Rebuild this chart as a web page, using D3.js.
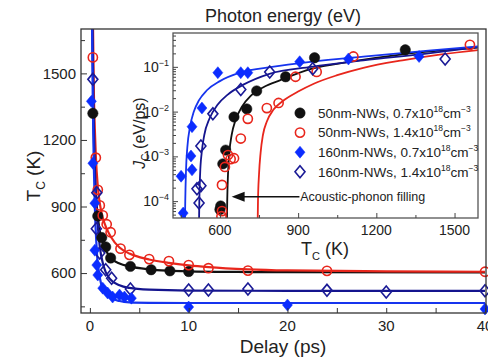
<!DOCTYPE html>
<html>
<head>
<meta charset="utf-8">
<script src="https://cdn.jsdelivr.net/npm/d3@7"></script>
<style>
  body { margin: 0; background: #fff; }
  svg { display: block; font-family: "Liberation Sans", Arial, sans-serif; }
</style>
</head>
<body>
<div id="chart"></div>
<script>
// ---- main plot: Tc vs delay ----
var redDelay   = [0.3, 0.6, 0.8, 1.0, 1.3, 1.7, 2.1, 3.1, 4.0, 6, 8, 10, 12, 16, 24, 40];
var redTc      = [1572, 1120, 975, 905, 860, 820, 784, 710, 682, 663, 654, 636, 622, 611, 610, 606];
var blackDelay = [0.3, 0.8, 1.2, 1.6, 2.1, 4.1, 6.2, 8.1, 10.0];
var blackTc    = [1320, 857, 760, 718, 668, 630, 615, 610, 607];
var blueDelay  = [0.15, 0.3, 0.5, 0.5, 0.7, 0.8, 1.3, 1.8, 2.3, 3.0, 3.5, 4.2, 10, 20, 40];
var blueTc     = [1374, 1095, 915, 703, 636, 591, 532, 510, 492, 501, 492, 487, 447, 456, 438];
var navyDelay  = [0.3, 0.7, 0.65, 1.0, 1.6, 2.2, 4.1, 10, 12, 16, 24, 30, 40];
var navyTc     = [1473, 962, 800, 690, 615, 577, 528, 524, 524, 528, 522, 515, 520];

// fit curves
var redFitT   = [0.32, 0.4, 0.5, 0.6, 0.8, 1.0, 1.3, 1.7, 2.1, 3, 4, 5, 6, 8, 10, 12, 16, 20, 30, 40];
var redFitTc  = [1700, 1420, 1250, 1130, 990, 915, 850, 800, 765, 715, 688, 672, 661, 646, 635, 627, 617, 612, 608, 606];
var blackFitT  = [0.27, 0.35, 0.5, 0.7, 1.0, 1.3, 1.7, 2.2, 3, 4, 6, 8, 10, 15, 20, 40];
var blackFitTc = [1700, 1350, 1050, 900, 790, 735, 695, 665, 643, 630, 617, 611, 608, 605, 604, 603];
var navyFitT  = [0.27, 0.35, 0.5, 0.7, 1.0, 1.4, 2, 3, 4, 6, 10, 20, 40];
var navyFitTc = [1700, 1400, 1080, 880, 720, 630, 575, 545, 533, 525, 521, 520, 520];
var blueFitT  = [0.22, 0.3, 0.4, 0.5, 0.7, 1.0, 1.4, 2, 3, 4, 6, 10, 40];
var blueFitTc = [1700, 1350, 1080, 900, 700, 580, 520, 490, 474, 468, 466, 465, 465];

var mainXTicks = [0, 10, 20, 30, 40];
var mainYTicks = [600, 900, 1200, 1500];

// ---- inset: Jc vs Tc ----
var inBlackT = [600, 603, 611, 622, 654, 703, 741, 852, 963, 1311];
var inBlackJ = [6.5e-5, 7.8e-5, 6.8e-4, 1.38e-3, 7.6e-3, 1.15e-2, 2.9e-2, 6.0e-2, 0.16, 0.24];
var inRedT = [606, 608, 608, 619, 631, 641, 654, 680, 707, 780, 825, 890, 971, 1112, 1559];
var inRedJ = [4.6e-5, 6.0e-5, 2.3e-4, 5.8e-4, 1.07e-3, 8.7e-4, 9.1e-4, 2.5e-3, 6.9e-3, 1.2e-2, 1.56e-2, 6.0e-2, 7.7e-2, 0.17, 0.31];
var inBlueT = [459, 451, 493, 489, 493, 531, 592, 680, 707, 906, 1093, 1364];
var inBlueJ = [5.4e-5, 3.6e-4, 5e-4, 1.02e-3, 4.6e-3, 1.2e-2, 7.4e-2, 7.4e-2, 7.4e-2, 0.13, 0.15, 0.17];
var inNavyT = [520, 512, 527, 527, 573, 680, 791, 956, 1464];
var inNavyJ = [9.1e-5, 1.9e-4, 2.2e-4, 1.7e-3, 8.9e-3, 3.1e-2, 7.7e-2, 9.1e-2, 0.15];

var inBlueFitT = [466, 467, 470, 475, 485, 500, 520, 550, 600, 680, 800, 950, 1150, 1400, 1600];
var inBlueFitJ = [4e-5, 1e-4, 5e-4, 1.6e-3, 4.5e-3, 1e-2, 1.8e-2, 3e-2, 4.8e-2, 7.5e-2, 0.1, 0.13, 0.17, 0.23, 0.29];
var inNavyFitT = [520, 521, 524, 530, 540, 560, 590, 630, 690, 790, 950, 1150, 1400, 1600];
var inNavyFitJ = [4e-5, 1e-4, 4e-4, 1.2e-3, 3e-3, 7e-3, 1.4e-2, 2.4e-2, 4e-2, 7e-2, 0.1, 0.14, 0.2, 0.28];
var inBlackFitT = [627, 628, 631, 636, 645, 660, 685, 720, 770, 830, 950, 1100, 1300, 1600];
var inBlackFitJ = [4e-5, 1e-4, 4e-4, 1.2e-3, 3e-3, 6.5e-3, 1.3e-2, 2.3e-2, 3.6e-2, 5e-2, 9e-2, 0.13, 0.19, 0.27];
var inRedFitT = [745, 746, 750, 756, 765, 780, 805, 840, 900, 960, 1050, 1150, 1300, 1450, 1600];
var inRedFitJ = [4e-5, 1e-4, 4e-4, 1.2e-3, 3e-3, 6e-3, 1.1e-2, 1.7e-2, 2.8e-2, 4.2e-2, 6.5e-2, 9.5e-2, 0.14, 0.19, 0.24];

var inXTicks = [600, 900, 1200, 1500];
var inYExp = [-4, -3, -2, -1];

var legendNames = ["50nm-NWs, 0.7x10", "50nm-NWs, 1.4x10", "160nm-NWs, 0.7x10", "160nm-NWs, 1.4x10"];

var RED = "#e8261c", BLACK = "#111", BLUE = "#0b2cff", NAVY = "#1a1a96";
var BLUELINE = "#1634ee", NAVYLINE = "#14148e";

var W = 488, H = 360;
var svg = d3.select("#chart").append("svg").attr("width", W).attr("height", H);

// main scales
var x = d3.scaleLinear().domain([-0.9, 40.1]).range([81, 486]);
var y = d3.scaleLinear().domain([420, 1700]).range([313, 29]);

svg.append("defs").append("clipPath").attr("id", "mainclip")
  .append("rect").attr("x", 81).attr("y", 29).attr("width", 405).attr("height", 284);

var diamond = "M0,-6L5,0L0,6L-5,0Z";

function zip(a, b) { return a.map(function (d, i) { return [d, b[i]]; }); }

var mainLine = d3.line().curve(d3.curveMonotoneX)
  .x(function (d) { return x(d[0]); })
  .y(function (d) { return y(d[1]); });

var gm = svg.append("g");
var fits = [
  [blackFitT, blackFitTc, BLACK],
  [redFitT, redFitTc, RED],
  [navyFitT, navyFitTc, NAVYLINE],
  [blueFitT, blueFitTc, BLUELINE]
];
fits.forEach(function (f) {
  gm.append("path").attr("clip-path", "url(#mainclip)")
    .attr("d", mainLine(zip(f[0], f[1])))
    .attr("fill", "none").attr("stroke", f[2]).attr("stroke-width", 2.2);
});

function drawMarks(g, xs, ys, sx, sy, kind, color) {
  var pts = zip(xs, ys);
  if (kind === "circle" || kind === "ocircle") {
    g.selectAll(null).data(pts).enter().append("circle")
      .attr("cx", function (d) { return sx(d[0]); })
      .attr("cy", function (d) { return sy(d[1]); })
      .attr("r", kind === "circle" ? 5.2 : 4.6)
      .attr("fill", kind === "circle" ? color : "none")
      .attr("stroke", color).attr("stroke-width", kind === "circle" ? 0.5 : 1.6);
  } else {
    g.selectAll(null).data(pts).enter().append("path")
      .attr("d", diamond)
      .attr("transform", function (d) { return "translate(" + sx(d[0]) + "," + sy(d[1]) + ")"; })
      .attr("fill", kind === "diamond" ? color : "none")
      .attr("stroke", color).attr("stroke-width", kind === "diamond" ? 0.5 : 1.6);
  }
}

drawMarks(gm, blackDelay, blackTc, x, y, "circle", BLACK);
drawMarks(gm, redDelay, redTc, x, y, "ocircle", RED);
drawMarks(gm, navyDelay, navyTc, x, y, "odiamond", NAVY);
drawMarks(gm, blueDelay, blueTc, x, y, "diamond", BLUE);

// main frame and ticks (inward)
svg.append("rect").attr("x", 81).attr("y", 29).attr("width", 405).attr("height", 284)
  .attr("fill", "none").attr("stroke", "#333").attr("stroke-width", 1.3);

var gx = svg.append("g").attr("transform", "translate(0,313)");
gx.call(d3.axisBottom(x).tickValues([0, 5, 10, 15, 20, 25, 30, 35, 40]).tickSizeInner(-5).tickSizeOuter(0).tickFormat(""));
gx.select(".domain").remove();
gx.selectAll(".tick line").attr("stroke", "#333");
gx.selectAll(null).data(mainXTicks).enter().append("text")
  .attr("x", function (d) { return x(d); }).attr("y", 18)
  .attr("text-anchor", "middle").attr("font-size", 15).attr("fill", "#222")
  .text(function (d) { return d; });

var gy = svg.append("g").attr("transform", "translate(81,0)");
gy.call(d3.axisLeft(y).tickValues([450, 600, 750, 900, 1050, 1200, 1350, 1500, 1650]).tickSizeInner(-5).tickSizeOuter(0).tickFormat(""));
gy.select(".domain").remove();
gy.selectAll(".tick line").attr("stroke", "#333")
  .attr("x2", function (d) { return mainYTicks.indexOf(d) >= 0 ? 6 : 4; });
gy.selectAll(null).data(mainYTicks).enter().append("text")
  .attr("x", -5).attr("y", function (d) { return y(d); }).attr("dy", "0.35em")
  .attr("text-anchor", "end").attr("font-size", 15).attr("fill", "#222")
  .text(function (d) { return d; });

// main axis titles
svg.append("text").attr("x", 283).attr("y", 353).attr("text-anchor", "middle")
  .attr("font-size", 19).attr("fill", "#222").text("Delay (ps)");
var ylab = svg.append("text").attr("transform", "translate(40,176) rotate(-90)")
  .attr("text-anchor", "middle").attr("font-size", 19).attr("fill", "#222");
ylab.append("tspan").text("T");
ylab.append("tspan").attr("font-size", 12).attr("dy", 5).text("C");
ylab.append("tspan").attr("dy", -5).text(" (K)");

svg.append("text").attr("x", 283).attr("y", 22).attr("text-anchor", "middle")
  .attr("font-size", 18).attr("fill", "#222").text("Photon energy (eV)");

// ---- inset ----
var ix = d3.scaleLinear().domain([420, 1590]).range([173, 478]);
var iy = d3.scaleLog().domain([4.2e-5, 0.57]).range([218, 33]);

svg.append("rect").attr("x", 173).attr("y", 33).attr("width", 305).attr("height", 185)
  .attr("fill", "#fff");
svg.select("defs").append("clipPath").attr("id", "inclip")
  .append("rect").attr("x", 173).attr("y", 33).attr("width", 305).attr("height", 185);

var gi = svg.append("g").attr("clip-path", "url(#inclip)");
var inLine = d3.line().curve(d3.curveMonotoneX)
  .x(function (d) { return ix(d[0]); })
  .y(function (d) { return iy(d[1]); });
[
  [inRedFitT, inRedFitJ, RED],
  [inBlackFitT, inBlackFitJ, BLACK],
  [inNavyFitT, inNavyFitJ, NAVYLINE],
  [inBlueFitT, inBlueFitJ, BLUELINE]
].forEach(function (f) {
  gi.append("path").attr("d", inLine(zip(f[0], f[1])))
    .attr("fill", "none").attr("stroke", f[2]).attr("stroke-width", 1.8);
});
drawMarks(gi, inBlackT, inBlackJ, ix, iy, "circle", BLACK);
drawMarks(gi, inRedT, inRedJ, ix, iy, "ocircle", RED);
drawMarks(gi, inNavyT, inNavyJ, ix, iy, "odiamond", NAVY);
drawMarks(gi, inBlueT, inBlueJ, ix, iy, "diamond", BLUE);

svg.append("rect").attr("x", 173).attr("y", 33).attr("width", 305).attr("height", 185)
  .attr("fill", "none").attr("stroke", "#555").attr("stroke-width", 1.3);

// inset x ticks
var gix = svg.append("g").attr("transform", "translate(0,218)");
gix.call(d3.axisBottom(ix).tickValues([450, 600, 750, 900, 1050, 1200, 1350, 1500]).tickSizeInner(-4).tickSizeOuter(0).tickFormat(""));
gix.select(".domain").remove();
gix.selectAll(".tick line").attr("stroke", "#444")
  .attr("y2", function (d) { return inXTicks.indexOf(d) >= 0 ? -5 : -3; });
gix.selectAll(null).data(inXTicks).enter().append("text")
  .attr("x", function (d) { return ix(d); }).attr("y", 17)
  .attr("text-anchor", "middle").attr("font-size", 14).attr("fill", "#222")
  .text(function (d) { return d; });

// inset y ticks (log)
var minor = [];
for (var e = -5; e <= 0; e++) {
  for (var m = 1; m <= 9; m++) {
    var v = m * Math.pow(10, e);
    if (v >= 4.2e-5 && v <= 0.57) minor.push(v);
  }
}
var giy = svg.append("g").attr("transform", "translate(173,0)");
giy.call(d3.axisLeft(iy).tickValues(minor).tickSizeInner(-3).tickSizeOuter(0).tickFormat(""));
giy.select(".domain").remove();
giy.selectAll(".tick line").attr("stroke", "#444")
  .attr("x2", function (d) { return Math.abs(Math.log10(d) - Math.round(Math.log10(d))) < 1e-6 ? 5 : 3; });
var ylabs = giy.selectAll(null).data(inYExp).enter().append("text")
  .attr("x", -4).attr("y", function (d) { return iy(Math.pow(10, d)); }).attr("dy", "0.35em")
  .attr("text-anchor", "end").attr("font-size", 14).attr("fill", "#222");
ylabs.append("tspan").text("10");
ylabs.append("tspan").attr("font-size", 9).attr("dy", -6).text(function (d) { return "\u2212" + (-d); });

// inset axis titles
var ixl = svg.append("text").attr("x", 325).attr("y", 255).attr("text-anchor", "middle")
  .attr("font-size", 18).attr("fill", "#222");
ixl.append("tspan").text("T");
ixl.append("tspan").attr("font-size", 11).attr("dy", 5).text("C");
ixl.append("tspan").attr("dy", -5).text(" (K)");

var iyl = svg.append("text").attr("transform", "translate(145,133) rotate(-90)")
  .attr("text-anchor", "middle").attr("font-size", 16).attr("fill", "#222");
iyl.append("tspan").attr("font-style", "italic").text("J");
iyl.append("tspan").attr("font-size", 10).attr("dy", 4).text("C");
iyl.append("tspan").attr("dy", -4).text(" (eV/ps)");

// legend
var legKinds = [["circle", BLACK], ["ocircle", RED], ["diamond", BLUE], ["odiamond", NAVY]];
var lg = svg.append("g");
legendNames.forEach(function (name, i) {
  var ly = 113 + i * 19.6;
  var row = lg.append("g");
  if (legKinds[i][0].indexOf("circle") >= 0) {
    row.append("circle").attr("cx", 300).attr("cy", ly).attr("r", legKinds[i][0] === "circle" ? 5.2 : 4.6)
      .attr("fill", legKinds[i][0] === "circle" ? legKinds[i][1] : "none")
      .attr("stroke", legKinds[i][1]).attr("stroke-width", legKinds[i][0] === "circle" ? 0.5 : 1.6);
  } else {
    row.append("path").attr("d", diamond).attr("transform", "translate(300," + ly + ")")
      .attr("fill", legKinds[i][0] === "diamond" ? legKinds[i][1] : "none")
      .attr("stroke", legKinds[i][1]).attr("stroke-width", legKinds[i][0] === "diamond" ? 0.5 : 1.6);
  }
  var t = row.append("text").attr("x", 318).attr("y", ly).attr("dy", "0.35em")
    .attr("font-size", 13.5).attr("fill", "#222");
  t.append("tspan").text(name);
  t.append("tspan").attr("font-size", 8.5).attr("dy", -6).text("18");
  t.append("tspan").attr("dy", 6).text("cm");
  t.append("tspan").attr("font-size", 8.5).attr("dy", -6).text("\u22123");
});

// annotation arrow
var arrowY = iy(1.25e-4);
svg.append("line").attr("x1", ix(905)).attr("x2", ix(680)).attr("y1", arrowY).attr("y2", arrowY)
  .attr("stroke", "#111").attr("stroke-width", 1.6);
svg.append("path")
  .attr("d", "M" + ix(645) + "," + arrowY + "l13,-5l0,10z").attr("fill", "#111");
svg.append("text").attr("x", ix(908)).attr("y", arrowY).attr("dy", "0.35em")
  .attr("font-size", 12.5).attr("fill", "#222").text("Acoustic-phonon filling");
</script>
</body>
</html>
